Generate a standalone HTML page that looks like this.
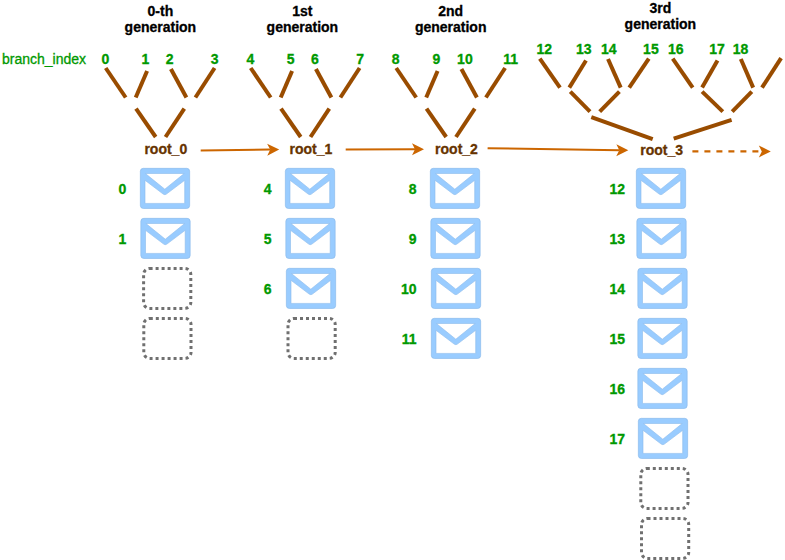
<!DOCTYPE html>
<html><head><meta charset="utf-8"><style>
html,body{margin:0;padding:0;background:#fff;width:785px;height:560px;overflow:hidden}
svg{display:block;font-family:"Liberation Sans",sans-serif}
</style></head><body>
<svg width="785" height="560" viewBox="0 0 785 560">
<text x="160.4" y="15.9" font-size="14" font-weight="bold" fill="#000" stroke="#000" stroke-width="0.3" text-anchor="middle">0-th</text>
<text x="160.4" y="32.4" font-size="14" font-weight="bold" fill="#000" stroke="#000" stroke-width="0.3" text-anchor="middle">generation</text>
<text x="302.4" y="16" font-size="14" font-weight="bold" fill="#000" stroke="#000" stroke-width="0.3" text-anchor="middle">1st</text>
<text x="302.4" y="32.3" font-size="14" font-weight="bold" fill="#000" stroke="#000" stroke-width="0.3" text-anchor="middle">generation</text>
<text x="450.7" y="16" font-size="14" font-weight="bold" fill="#000" stroke="#000" stroke-width="0.3" text-anchor="middle">2nd</text>
<text x="450.7" y="32.3" font-size="14" font-weight="bold" fill="#000" stroke="#000" stroke-width="0.3" text-anchor="middle">generation</text>
<text x="660.4" y="12.5" font-size="14" font-weight="bold" fill="#000" stroke="#000" stroke-width="0.3" text-anchor="middle">3rd</text>
<text x="660.4" y="29.4" font-size="14" font-weight="bold" fill="#000" stroke="#000" stroke-width="0.3" text-anchor="middle">generation</text>
<text x="2" y="63.7" font-size="14" font-weight="normal" fill="#009900" stroke="#009900" stroke-width="0.3" text-anchor="start">branch_index</text>
<text x="101.4" y="63.9" font-size="14" font-weight="bold" fill="#009900" stroke="#009900" stroke-width="0.3" text-anchor="start">0</text>
<text x="141.6" y="63.9" font-size="14" font-weight="bold" fill="#009900" stroke="#009900" stroke-width="0.3" text-anchor="start">1</text>
<text x="165.79999999999998" y="63.9" font-size="14" font-weight="bold" fill="#009900" stroke="#009900" stroke-width="0.3" text-anchor="start">2</text>
<text x="210.79999999999998" y="63.9" font-size="14" font-weight="bold" fill="#009900" stroke="#009900" stroke-width="0.3" text-anchor="start">3</text>
<text x="246.39999999999998" y="63.9" font-size="14" font-weight="bold" fill="#009900" stroke="#009900" stroke-width="0.3" text-anchor="start">4</text>
<text x="286.8" y="63.9" font-size="14" font-weight="bold" fill="#009900" stroke="#009900" stroke-width="0.3" text-anchor="start">5</text>
<text x="311.09999999999997" y="63.9" font-size="14" font-weight="bold" fill="#009900" stroke="#009900" stroke-width="0.3" text-anchor="start">6</text>
<text x="356.2" y="63.9" font-size="14" font-weight="bold" fill="#009900" stroke="#009900" stroke-width="0.3" text-anchor="start">7</text>
<text x="391.8" y="63.9" font-size="14" font-weight="bold" fill="#009900" stroke="#009900" stroke-width="0.3" text-anchor="start">8</text>
<text x="432.5" y="63.9" font-size="14" font-weight="bold" fill="#009900" stroke="#009900" stroke-width="0.3" text-anchor="start">9</text>
<text x="457.09999999999997" y="63.9" font-size="14" font-weight="bold" fill="#009900" stroke="#009900" stroke-width="0.3" text-anchor="start">10</text>
<text x="503.3" y="63.9" font-size="14" font-weight="bold" fill="#009900" stroke="#009900" stroke-width="0.3" text-anchor="start">11</text>
<text x="536.5" y="53.7" font-size="14" font-weight="bold" fill="#009900" stroke="#009900" stroke-width="0.3" text-anchor="start">12</text>
<text x="575.9000000000001" y="53.7" font-size="14" font-weight="bold" fill="#009900" stroke="#009900" stroke-width="0.3" text-anchor="start">13</text>
<text x="600.9000000000001" y="53.7" font-size="14" font-weight="bold" fill="#009900" stroke="#009900" stroke-width="0.3" text-anchor="start">14</text>
<text x="643.1" y="53.7" font-size="14" font-weight="bold" fill="#009900" stroke="#009900" stroke-width="0.3" text-anchor="start">15</text>
<text x="667.9000000000001" y="53.7" font-size="14" font-weight="bold" fill="#009900" stroke="#009900" stroke-width="0.3" text-anchor="start">16</text>
<text x="709.2" y="53.7" font-size="14" font-weight="bold" fill="#009900" stroke="#009900" stroke-width="0.3" text-anchor="start">17</text>
<text x="732.8000000000001" y="53.7" font-size="14" font-weight="bold" fill="#009900" stroke="#009900" stroke-width="0.3" text-anchor="start">18</text>
<line x1="105.7" y1="68" x2="125.7" y2="97.5" stroke="#994C00" stroke-width="4"/>
<line x1="147.1" y1="71" x2="135.7" y2="97.5" stroke="#994C00" stroke-width="4"/>
<line x1="170.9" y1="69" x2="186.4" y2="97.5" stroke="#994C00" stroke-width="4"/>
<line x1="214.6" y1="68" x2="195.4" y2="97.5" stroke="#994C00" stroke-width="4"/>
<line x1="136" y1="108.6" x2="155.7" y2="137" stroke="#994C00" stroke-width="4"/>
<line x1="184.3" y1="108.6" x2="165.5" y2="137" stroke="#994C00" stroke-width="4"/>
<line x1="250.7" y1="68" x2="270.7" y2="97.5" stroke="#994C00" stroke-width="4"/>
<line x1="292.1" y1="71" x2="280.7" y2="97.5" stroke="#994C00" stroke-width="4"/>
<line x1="315.9" y1="69" x2="331.4" y2="97.5" stroke="#994C00" stroke-width="4"/>
<line x1="359.6" y1="68" x2="340.4" y2="97.5" stroke="#994C00" stroke-width="4"/>
<line x1="281" y1="108.6" x2="300.7" y2="137" stroke="#994C00" stroke-width="4"/>
<line x1="329.3" y1="108.6" x2="310.5" y2="137" stroke="#994C00" stroke-width="4"/>
<line x1="396.2" y1="68" x2="416.2" y2="97.5" stroke="#994C00" stroke-width="4"/>
<line x1="437.6" y1="71" x2="426.2" y2="97.5" stroke="#994C00" stroke-width="4"/>
<line x1="461.4" y1="69" x2="476.9" y2="97.5" stroke="#994C00" stroke-width="4"/>
<line x1="505.1" y1="68" x2="485.9" y2="97.5" stroke="#994C00" stroke-width="4"/>
<line x1="426.5" y1="108.6" x2="446.2" y2="137" stroke="#994C00" stroke-width="4"/>
<line x1="474.8" y1="108.6" x2="456.0" y2="137" stroke="#994C00" stroke-width="4"/>
<line x1="539.8" y1="58.6" x2="560" y2="87.6" stroke="#994C00" stroke-width="4"/>
<line x1="586" y1="60.5" x2="569.3" y2="87.6" stroke="#994C00" stroke-width="4"/>
<line x1="608" y1="59" x2="620.7" y2="87.6" stroke="#994C00" stroke-width="4"/>
<line x1="648.8" y1="58.6" x2="629.2" y2="87.6" stroke="#994C00" stroke-width="4"/>
<line x1="570.3" y1="91.6" x2="590" y2="111.6" stroke="#994C00" stroke-width="4"/>
<line x1="619.4" y1="91.6" x2="599.7" y2="111.6" stroke="#994C00" stroke-width="4"/>
<line x1="591.3" y1="117.1" x2="652.7" y2="139.1" stroke="#994C00" stroke-width="4"/>
<line x1="672.7" y1="58.6" x2="692.7" y2="87.6" stroke="#994C00" stroke-width="4"/>
<line x1="717.5" y1="60.5" x2="702.1" y2="87.6" stroke="#994C00" stroke-width="4"/>
<line x1="740.8" y1="59" x2="753.2" y2="87.6" stroke="#994C00" stroke-width="4"/>
<line x1="781.1" y1="58.2" x2="762" y2="87.6" stroke="#994C00" stroke-width="4"/>
<line x1="702.1" y1="91.6" x2="722.8" y2="111.6" stroke="#994C00" stroke-width="4"/>
<line x1="751.8" y1="91.6" x2="732.2" y2="111.6" stroke="#994C00" stroke-width="4"/>
<line x1="731.6" y1="119.8" x2="673.7" y2="138.7" stroke="#994C00" stroke-width="4"/>
<text x="144.4" y="153.75" font-size="14" font-weight="bold" fill="#663300" stroke="#663300" stroke-width="0.3" text-anchor="start">root_0</text>
<text x="289.5" y="153.75" font-size="14" font-weight="bold" fill="#663300" stroke="#663300" stroke-width="0.3" text-anchor="start">root_1</text>
<text x="435.1" y="153.75" font-size="14" font-weight="bold" fill="#663300" stroke="#663300" stroke-width="0.3" text-anchor="start">root_2</text>
<text x="640.3" y="154.7" font-size="14" font-weight="bold" fill="#663300" stroke="#663300" stroke-width="0.3" text-anchor="start">root_3</text>
<line x1="200.7" y1="150.4" x2="270.20" y2="149.60" stroke="#CC6600" stroke-width="2"/>
<polygon points="279.2,149.5 267.27,155.64 270.20,149.60 267.13,143.64" fill="#CC6600"/>
<line x1="345.7" y1="149.5" x2="415.00" y2="149.32" stroke="#CC6600" stroke-width="2"/>
<polygon points="424,149.3 412.02,155.33 415.00,149.32 411.98,143.33" fill="#CC6600"/>
<line x1="487.6" y1="148.3" x2="619.30" y2="150.17" stroke="#CC6600" stroke-width="2"/>
<polygon points="628.3,150.3 616.22,156.13 619.30,150.17 616.39,144.13" fill="#CC6600"/>
<line x1="692.4" y1="151.4" x2="761.80" y2="151.40" stroke="#CC6600" stroke-width="2.4" stroke-dasharray="6 6"/>
<polygon points="770.8,151.4 758.80,157.40 761.80,151.40 758.80,145.40" fill="#CC6600"/>
<g transform="translate(140.0,168)"><rect x="0.35" y="0.35" width="49.3" height="40.1" rx="3" fill="#99CCFF" stroke="#8BBAEB" stroke-width="0.7"/><polygon points="5.4,5.5 44.2,5.5 24.8,21.2" fill="#fff" stroke="#8BBAEB" stroke-width="0.6"/><path d="M5,12.3 L23.2,26.1 Q24.8,27.2 26.4,26.1 L44.7,12.3 V35.4 H5 Z" fill="#fff" stroke="#8BBAEB" stroke-width="0.6"/></g>
<g transform="translate(140.5,218)"><rect x="0.35" y="0.35" width="49.3" height="40.1" rx="3" fill="#99CCFF" stroke="#8BBAEB" stroke-width="0.7"/><polygon points="5.4,5.5 44.2,5.5 24.8,21.2" fill="#fff" stroke="#8BBAEB" stroke-width="0.6"/><path d="M5,12.3 L23.2,26.1 Q24.8,27.2 26.4,26.1 L44.7,12.3 V35.4 H5 Z" fill="#fff" stroke="#8BBAEB" stroke-width="0.6"/></g>
<g transform="translate(285.0,168)"><rect x="0.35" y="0.35" width="49.3" height="40.1" rx="3" fill="#99CCFF" stroke="#8BBAEB" stroke-width="0.7"/><polygon points="5.4,5.5 44.2,5.5 24.8,21.2" fill="#fff" stroke="#8BBAEB" stroke-width="0.6"/><path d="M5,12.3 L23.2,26.1 Q24.8,27.2 26.4,26.1 L44.7,12.3 V35.4 H5 Z" fill="#fff" stroke="#8BBAEB" stroke-width="0.6"/></g>
<g transform="translate(285.5,218)"><rect x="0.35" y="0.35" width="49.3" height="40.1" rx="3" fill="#99CCFF" stroke="#8BBAEB" stroke-width="0.7"/><polygon points="5.4,5.5 44.2,5.5 24.8,21.2" fill="#fff" stroke="#8BBAEB" stroke-width="0.6"/><path d="M5,12.3 L23.2,26.1 Q24.8,27.2 26.4,26.1 L44.7,12.3 V35.4 H5 Z" fill="#fff" stroke="#8BBAEB" stroke-width="0.6"/></g>
<g transform="translate(286.0,268)"><rect x="0.35" y="0.35" width="49.3" height="40.1" rx="3" fill="#99CCFF" stroke="#8BBAEB" stroke-width="0.7"/><polygon points="5.4,5.5 44.2,5.5 24.8,21.2" fill="#fff" stroke="#8BBAEB" stroke-width="0.6"/><path d="M5,12.3 L23.2,26.1 Q24.8,27.2 26.4,26.1 L44.7,12.3 V35.4 H5 Z" fill="#fff" stroke="#8BBAEB" stroke-width="0.6"/></g>
<g transform="translate(430.0,168)"><rect x="0.35" y="0.35" width="49.3" height="40.1" rx="3" fill="#99CCFF" stroke="#8BBAEB" stroke-width="0.7"/><polygon points="5.4,5.5 44.2,5.5 24.8,21.2" fill="#fff" stroke="#8BBAEB" stroke-width="0.6"/><path d="M5,12.3 L23.2,26.1 Q24.8,27.2 26.4,26.1 L44.7,12.3 V35.4 H5 Z" fill="#fff" stroke="#8BBAEB" stroke-width="0.6"/></g>
<g transform="translate(430.5,218)"><rect x="0.35" y="0.35" width="49.3" height="40.1" rx="3" fill="#99CCFF" stroke="#8BBAEB" stroke-width="0.7"/><polygon points="5.4,5.5 44.2,5.5 24.8,21.2" fill="#fff" stroke="#8BBAEB" stroke-width="0.6"/><path d="M5,12.3 L23.2,26.1 Q24.8,27.2 26.4,26.1 L44.7,12.3 V35.4 H5 Z" fill="#fff" stroke="#8BBAEB" stroke-width="0.6"/></g>
<g transform="translate(431.0,268)"><rect x="0.35" y="0.35" width="49.3" height="40.1" rx="3" fill="#99CCFF" stroke="#8BBAEB" stroke-width="0.7"/><polygon points="5.4,5.5 44.2,5.5 24.8,21.2" fill="#fff" stroke="#8BBAEB" stroke-width="0.6"/><path d="M5,12.3 L23.2,26.1 Q24.8,27.2 26.4,26.1 L44.7,12.3 V35.4 H5 Z" fill="#fff" stroke="#8BBAEB" stroke-width="0.6"/></g>
<g transform="translate(431.0,318)"><rect x="0.35" y="0.35" width="49.3" height="40.1" rx="3" fill="#99CCFF" stroke="#8BBAEB" stroke-width="0.7"/><polygon points="5.4,5.5 44.2,5.5 24.8,21.2" fill="#fff" stroke="#8BBAEB" stroke-width="0.6"/><path d="M5,12.3 L23.2,26.1 Q24.8,27.2 26.4,26.1 L44.7,12.3 V35.4 H5 Z" fill="#fff" stroke="#8BBAEB" stroke-width="0.6"/></g>
<g transform="translate(636,168)"><rect x="0.35" y="0.35" width="49.3" height="40.1" rx="3" fill="#99CCFF" stroke="#8BBAEB" stroke-width="0.7"/><polygon points="5.4,5.5 44.2,5.5 24.8,21.2" fill="#fff" stroke="#8BBAEB" stroke-width="0.6"/><path d="M5,12.3 L23.2,26.1 Q24.8,27.2 26.4,26.1 L44.7,12.3 V35.4 H5 Z" fill="#fff" stroke="#8BBAEB" stroke-width="0.6"/></g>
<g transform="translate(636.5,218)"><rect x="0.35" y="0.35" width="49.3" height="40.1" rx="3" fill="#99CCFF" stroke="#8BBAEB" stroke-width="0.7"/><polygon points="5.4,5.5 44.2,5.5 24.8,21.2" fill="#fff" stroke="#8BBAEB" stroke-width="0.6"/><path d="M5,12.3 L23.2,26.1 Q24.8,27.2 26.4,26.1 L44.7,12.3 V35.4 H5 Z" fill="#fff" stroke="#8BBAEB" stroke-width="0.6"/></g>
<g transform="translate(637.5,268)"><rect x="0.35" y="0.35" width="49.3" height="40.1" rx="3" fill="#99CCFF" stroke="#8BBAEB" stroke-width="0.7"/><polygon points="5.4,5.5 44.2,5.5 24.8,21.2" fill="#fff" stroke="#8BBAEB" stroke-width="0.6"/><path d="M5,12.3 L23.2,26.1 Q24.8,27.2 26.4,26.1 L44.7,12.3 V35.4 H5 Z" fill="#fff" stroke="#8BBAEB" stroke-width="0.6"/></g>
<g transform="translate(637.5,318)"><rect x="0.35" y="0.35" width="49.3" height="40.1" rx="3" fill="#99CCFF" stroke="#8BBAEB" stroke-width="0.7"/><polygon points="5.4,5.5 44.2,5.5 24.8,21.2" fill="#fff" stroke="#8BBAEB" stroke-width="0.6"/><path d="M5,12.3 L23.2,26.1 Q24.8,27.2 26.4,26.1 L44.7,12.3 V35.4 H5 Z" fill="#fff" stroke="#8BBAEB" stroke-width="0.6"/></g>
<g transform="translate(637.5,368)"><rect x="0.35" y="0.35" width="49.3" height="40.1" rx="3" fill="#99CCFF" stroke="#8BBAEB" stroke-width="0.7"/><polygon points="5.4,5.5 44.2,5.5 24.8,21.2" fill="#fff" stroke="#8BBAEB" stroke-width="0.6"/><path d="M5,12.3 L23.2,26.1 Q24.8,27.2 26.4,26.1 L44.7,12.3 V35.4 H5 Z" fill="#fff" stroke="#8BBAEB" stroke-width="0.6"/></g>
<g transform="translate(638,418)"><rect x="0.35" y="0.35" width="49.3" height="40.1" rx="3" fill="#99CCFF" stroke="#8BBAEB" stroke-width="0.7"/><polygon points="5.4,5.5 44.2,5.5 24.8,21.2" fill="#fff" stroke="#8BBAEB" stroke-width="0.6"/><path d="M5,12.3 L23.2,26.1 Q24.8,27.2 26.4,26.1 L44.7,12.3 V35.4 H5 Z" fill="#fff" stroke="#8BBAEB" stroke-width="0.6"/></g>
<path d="M149.6,268.4 H184.8 A6,6 0 0 1 190.8,274.4 V302.4 A6,6 0 0 1 184.8,308.4 H149.6 A6,6 0 0 1 143.6,302.4 V274.4 A6,6 0 0 1 149.6,268.4 Z" fill="none" stroke="#707070" stroke-width="3" stroke-dasharray="3 3"/>
<path d="M149.8,318.4 H185.0 A6,6 0 0 1 191.0,324.4 V352.4 A6,6 0 0 1 185.0,358.4 H149.8 A6,6 0 0 1 143.8,352.4 V324.4 A6,6 0 0 1 149.8,318.4 Z" fill="none" stroke="#707070" stroke-width="3" stroke-dasharray="3 3"/>
<path d="M294,318.4 H329.2 A6,6 0 0 1 335.2,324.4 V352.4 A6,6 0 0 1 329.2,358.4 H294 A6,6 0 0 1 288,352.4 V324.4 A6,6 0 0 1 294,318.4 Z" fill="none" stroke="#707070" stroke-width="3" stroke-dasharray="3 3"/>
<path d="M646.8,468.4 H682.0 A6,6 0 0 1 688.0,474.4 V502.4 A6,6 0 0 1 682.0,508.4 H646.8 A6,6 0 0 1 640.8,502.4 V474.4 A6,6 0 0 1 646.8,468.4 Z" fill="none" stroke="#707070" stroke-width="3" stroke-dasharray="3 3"/>
<path d="M647.5,518.4 H682.7 A6,6 0 0 1 688.7,524.4 V552.4 A6,6 0 0 1 682.7,558.4 H647.5 A6,6 0 0 1 641.5,552.4 V524.4 A6,6 0 0 1 647.5,518.4 Z" fill="none" stroke="#707070" stroke-width="3" stroke-dasharray="3 3"/>
<text x="126.3" y="193.5" font-size="14" font-weight="bold" fill="#009900" stroke="#009900" stroke-width="0.3" text-anchor="end">0</text>
<text x="126.3" y="243.5" font-size="14" font-weight="bold" fill="#009900" stroke="#009900" stroke-width="0.3" text-anchor="end">1</text>
<text x="271.5" y="193.5" font-size="14" font-weight="bold" fill="#009900" stroke="#009900" stroke-width="0.3" text-anchor="end">4</text>
<text x="271.5" y="243.5" font-size="14" font-weight="bold" fill="#009900" stroke="#009900" stroke-width="0.3" text-anchor="end">5</text>
<text x="271.5" y="293.5" font-size="14" font-weight="bold" fill="#009900" stroke="#009900" stroke-width="0.3" text-anchor="end">6</text>
<text x="416.6" y="193.5" font-size="14" font-weight="bold" fill="#009900" stroke="#009900" stroke-width="0.3" text-anchor="end">8</text>
<text x="416.6" y="243.5" font-size="14" font-weight="bold" fill="#009900" stroke="#009900" stroke-width="0.3" text-anchor="end">9</text>
<text x="416.6" y="293.5" font-size="14" font-weight="bold" fill="#009900" stroke="#009900" stroke-width="0.3" text-anchor="end">10</text>
<text x="416.6" y="343.5" font-size="14" font-weight="bold" fill="#009900" stroke="#009900" stroke-width="0.3" text-anchor="end">11</text>
<text x="625.0999999999999" y="193.5" font-size="14" font-weight="bold" fill="#009900" stroke="#009900" stroke-width="0.3" text-anchor="end">12</text>
<text x="625.0999999999999" y="243.5" font-size="14" font-weight="bold" fill="#009900" stroke="#009900" stroke-width="0.3" text-anchor="end">13</text>
<text x="625.0999999999999" y="293.5" font-size="14" font-weight="bold" fill="#009900" stroke="#009900" stroke-width="0.3" text-anchor="end">14</text>
<text x="625.0999999999999" y="343.5" font-size="14" font-weight="bold" fill="#009900" stroke="#009900" stroke-width="0.3" text-anchor="end">15</text>
<text x="625.0999999999999" y="393.5" font-size="14" font-weight="bold" fill="#009900" stroke="#009900" stroke-width="0.3" text-anchor="end">16</text>
<text x="625.0999999999999" y="443.5" font-size="14" font-weight="bold" fill="#009900" stroke="#009900" stroke-width="0.3" text-anchor="end">17</text>
</svg>
</body></html>
